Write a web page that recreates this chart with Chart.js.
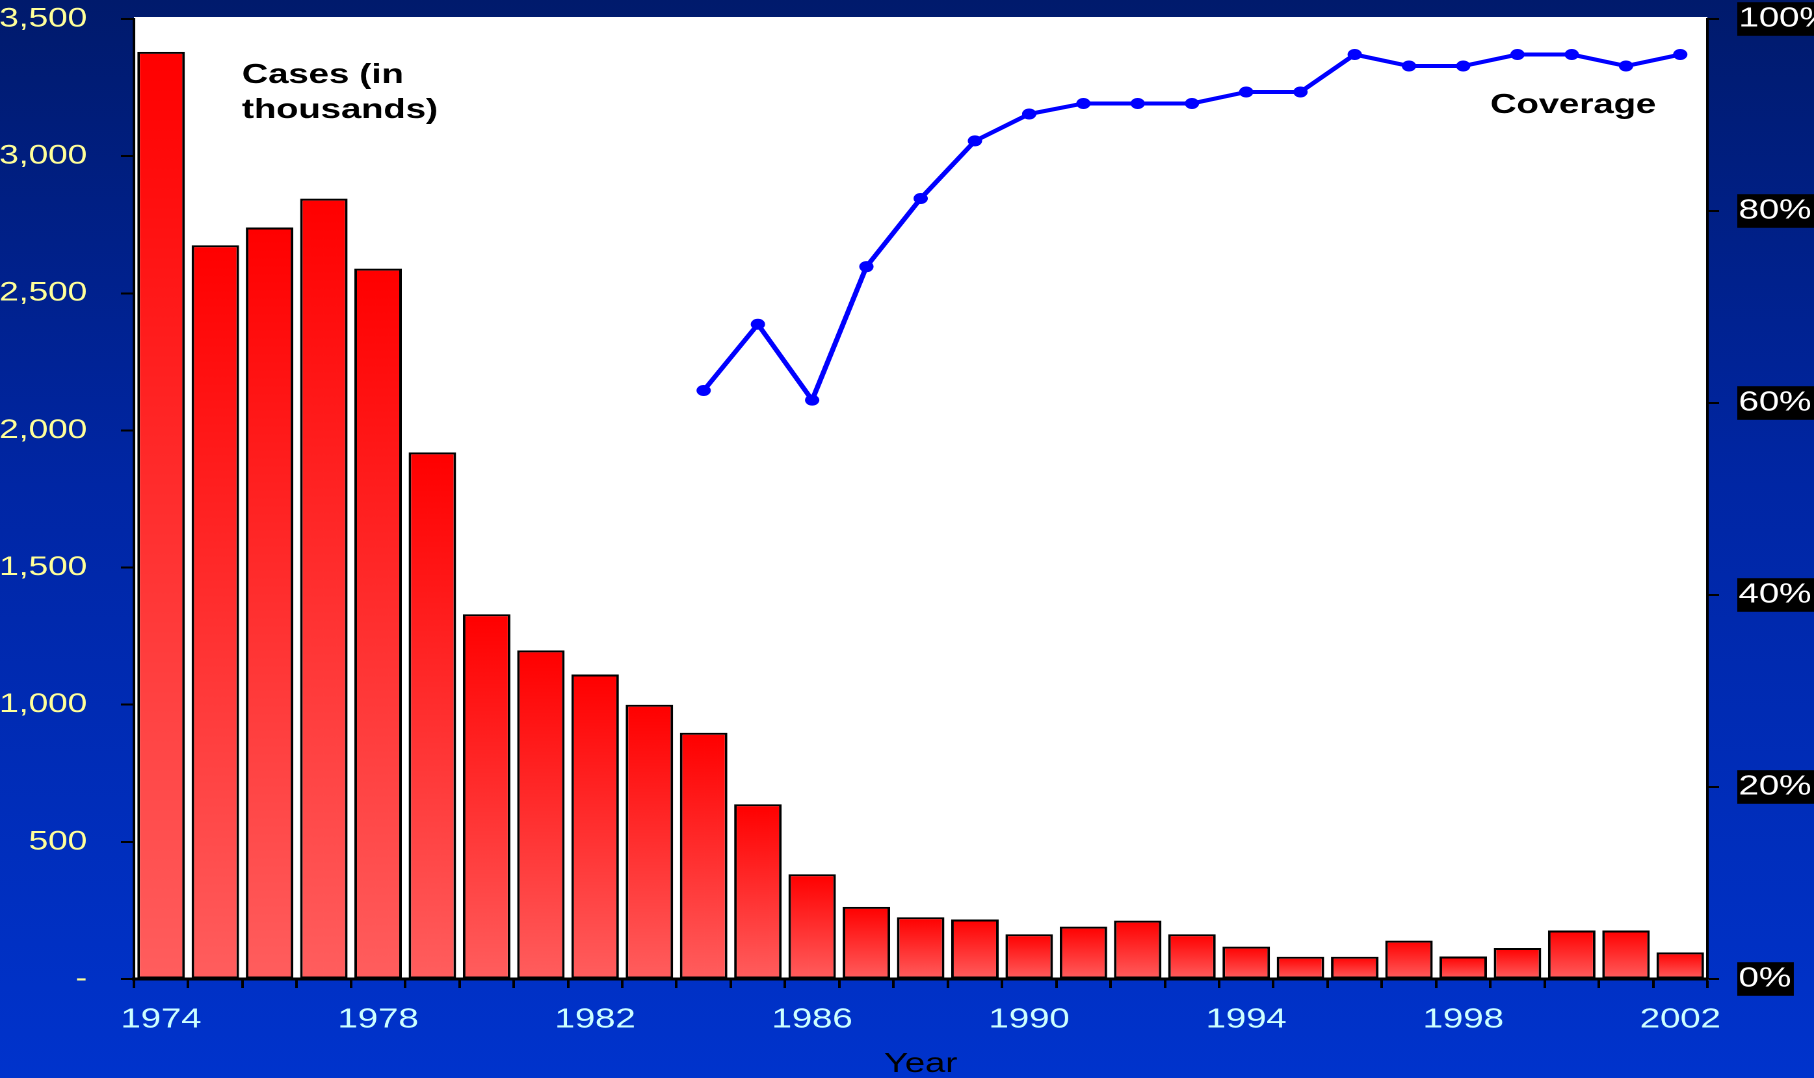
<!DOCTYPE html>
<html>
<head>
<meta charset="utf-8">
<script src="https://cdn.jsdelivr.net/npm/chart.js@4.4.1/dist/chart.umd.min.js"></script>
<style>
  html, body { margin: 0; padding: 0; width: 1814px; height: 1078px; overflow: hidden; }
  body { background: linear-gradient(to bottom, #001a6c 0%, #0026a4 45%, #0033cc 100%); }
  /* the chart is laid out narrower and widened to the full page, which gives its wide lettering */
  #wrap { position: absolute; left: 0; top: 0; width: 1395px; height: 1078px;
          transform: scaleX(1.30036); transform-origin: 0 0; }
</style>
</head>
<body>
<div id="wrap"><canvas id="chart"></canvas></div>
<script>
// Reported cases (thousands) and vaccination coverage (%) by year
const years = ['1974','1975','1976','1977','1978','1979','1980','1981','1982','1983',
               '1984','1985','1986','1987','1988','1989','1990','1991','1992','1993',
               '1994','1995','1996','1997','1998','1999','2000','2001','2002'];
const cases = [3380, 2675, 2740, 2845, 2590, 1920, 1330, 1198, 1110, 1000,
               898, 637, 382, 263, 225, 217, 163, 191, 213, 163,
               118, 81, 81, 140, 82, 113, 177, 177, 97];
const coverage = [null, null, null, null, null, null, null, null, null, null,
                  61.3, 68.2, 60.3, 74.2, 81.3, 87.3, 90.1, 91.2, 91.2, 91.2,
                  92.4, 92.4, 96.3, 95.1, 95.1, 96.3, 96.3, 95.1, 96.3];
const labelledYears = ['1974','1978','1982','1986','1990','1994','1998','2002'];
const casesTicks = [0, 500, 1000, 1500, 2000, 2500, 3000, 3500];
const coverageTicks = [0, 20, 40, 60, 80, 100];

const FONT = "'Liberation Sans', Arial, Helvetica, sans-serif";
Chart.defaults.font.family = FONT;

// white plot panel plus the two series captions
const panelAndCaptions = {
  id: 'panelAndCaptions',
  beforeDraw(chart) {
    const { ctx, chartArea: a } = chart;
    ctx.save();
    ctx.fillStyle = '#ffffff';
    ctx.fillRect(a.left, a.top - 2, a.right - a.left, a.bottom - a.top + 2);
    ctx.restore();
  },
  afterDatasetsDraw(chart) {
    const { ctx, chartArea: a } = chart;
    ctx.save();
    ctx.fillStyle = '#000000';
    ctx.font = 'bold 28px ' + FONT;
    ctx.textAlign = 'left';
    ctx.textBaseline = 'alphabetic';
    ctx.fillText('Cases (in', a.left + 83, a.top + 64);
    ctx.fillText('thousands)', a.left + 83, a.top + 99);
    ctx.fillText('Coverage', a.left + 1043, a.top + 94);
    ctx.restore();
  }
};

function barGradient(c) {
  const chart = c.chart;
  if (!chart.chartArea || c.type !== 'data') return '#ff2a2a';
  const y = chart.scales.y;
  const top = y.getPixelForValue(c.raw);
  const base = y.getPixelForValue(0);
  const g = chart.ctx.createLinearGradient(0, top, 0, base);
  g.addColorStop(0, '#ff0000');
  g.addColorStop(1, '#ff5e5e');
  return g;
}

// vertical axes: fixed width, no extra room reserved above or below for edge labels
function fitVertical(width) {
  return function (s) {
    s.width = width;
    s.paddingTop = 0;
    s.paddingBottom = 0;
  };
}

new Chart(document.getElementById('chart'), {
  type: 'bar',
  data: {
    labels: years,
    datasets: [
      {
        type: 'line',
        label: 'Coverage',
        data: coverage,
        yAxisID: 'y1',
        borderColor: '#0000ff',
        backgroundColor: '#0000ff',
        borderWidth: 4,
        pointRadius: 5.5,
        pointBorderWidth: 0,
        pointBackgroundColor: '#0000ff',
        tension: 0,
        order: 0
      },
      {
        type: 'bar',
        label: 'Cases (in thousands)',
        data: cases,
        yAxisID: 'y',
        backgroundColor: barGradient,
        borderColor: '#000000',
        borderWidth: 2,
        borderSkipped: false,
        categoryPercentage: 1.0,
        barPercentage: 0.875,
        order: 1
      }
    ]
  },
  options: {
    responsive: true,
    maintainAspectRatio: false,
    devicePixelRatio: 2,
    animation: false,
    layout: { padding: { top: 19, left: 0, right: 0, bottom: 0 } },
    plugins: { legend: { display: false }, tooltip: { enabled: false } },
    scales: {
      x: {
        type: 'category',
        offset: true,
        grid: { offset: true, drawOnChartArea: false, drawTicks: true, tickLength: 9, tickWidth: 2, tickColor: '#000000' },
        border: { display: true, color: '#000000', width: 3 },
        ticks: {
          autoSkip: false, maxRotation: 0, minRotation: 0,
          color: '#ccffff', font: { size: 28 }, padding: 15,
          callback(value) {
            const lab = this.getLabelForValue(value);
            return labelledYears.includes(lab) ? lab : '';
          }
        },
        title: { display: true, text: 'Year', color: '#000000', font: { size: 28 }, padding: { top: 0, bottom: -3 } },
        afterFit(s) { s.height = 99; s.paddingLeft = 0; s.paddingRight = 0; }
      },
      y: {
        position: 'left',
        min: casesTicks[0],
        max: casesTicks[casesTicks.length - 1],
        afterBuildTicks(s) { s.ticks = casesTicks.map(v => ({ value: v })); },
        grid: { drawOnChartArea: false, drawTicks: true, tickLength: 10, tickWidth: 2, tickColor: '#000000' },
        border: { display: true, color: '#000000', width: 2 },
        ticks: {
          color: '#ffff99', font: { size: 27 }, padding: 26,
          callback(v) { return v === 0 ? '-' : v.toLocaleString('en-US'); }
        },
        afterFit: fitVertical(103)
      },
      y1: {
        position: 'right',
        min: coverageTicks[0],
        max: coverageTicks[coverageTicks.length - 1],
        afterBuildTicks(s) { s.ticks = coverageTicks.map(v => ({ value: v })); },
        grid: { drawOnChartArea: false, drawTicks: true, tickLength: 9, tickWidth: 2, tickColor: '#000000' },
        border: { display: true, color: '#000000', width: 2 },
        ticks: {
          color: '#ffffff', font: { size: 28 }, padding: 15,
          showLabelBackdrop: true, backdropColor: '#000000',
          backdropPadding: { top: 0, bottom: 0, left: 1, right: 2 },
          callback(v) { return v + '%'; }
        },
        afterFit: fitVertical(82)
      }
    }
  },
  plugins: [panelAndCaptions]
});
</script>
</body>
</html>
